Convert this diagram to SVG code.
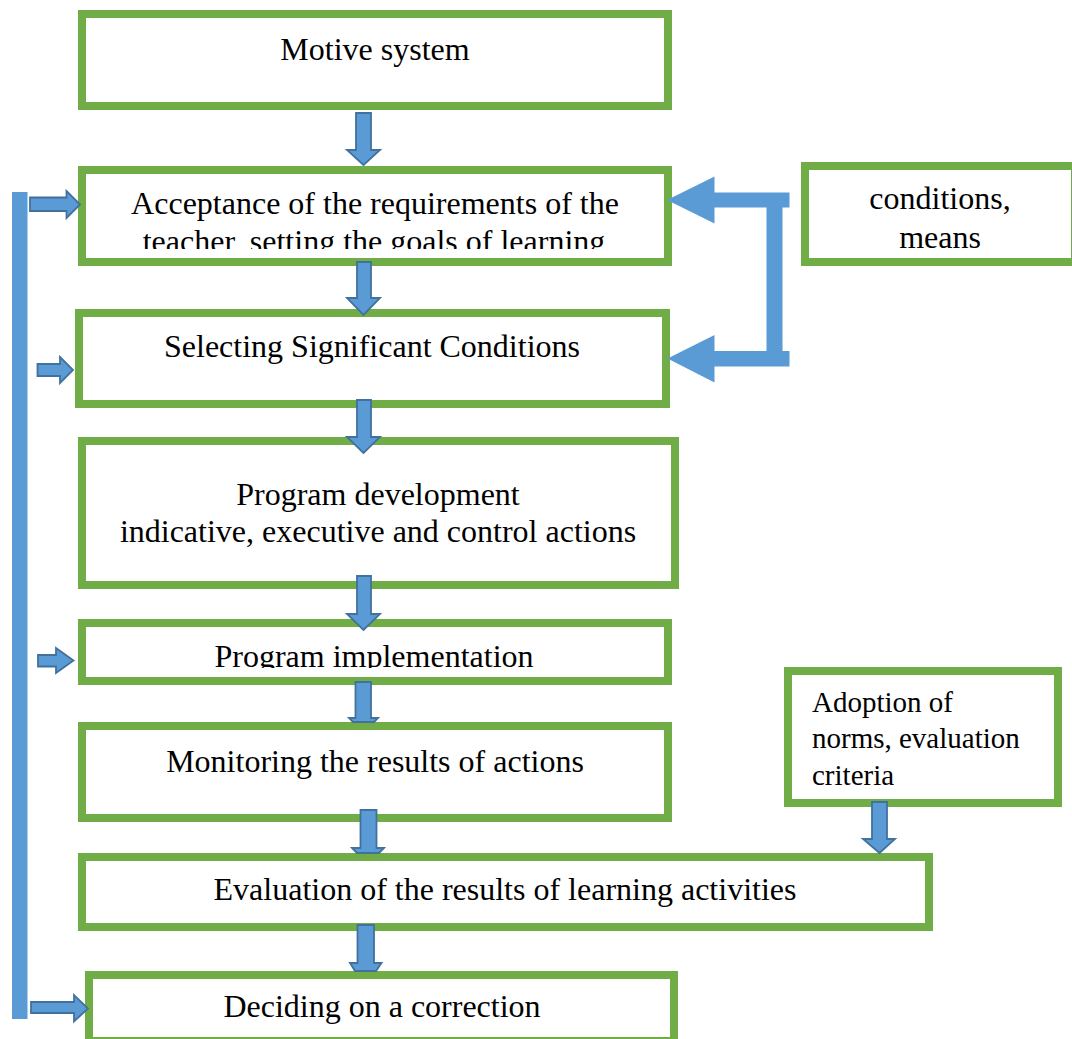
<svg xmlns="http://www.w3.org/2000/svg" width="1072" height="1039" viewBox="0 0 1072 1039">
<defs>
<style>
.box{fill:#ffffff;stroke:#70AD47;stroke-width:8}
.t{font-family:"Liberation Serif","Times New Roman",serif;font-size:32px;fill:#000000;text-anchor:middle}
.ts{font-family:"Liberation Serif","Times New Roman",serif;font-size:29px;fill:#000000}
.ba{fill:#5B9BD5;stroke:#41719C;stroke-width:1.8;stroke-linejoin:miter}
.flat{fill:#5B9BD5}
</style>
<clipPath id="clip2"><rect x="86" y="174" width="578" height="75"/></clipPath>
<clipPath id="clip5"><rect x="86" y="627" width="578" height="41"/></clipPath>
</defs>
<rect width="1072" height="1039" fill="#ffffff"/>

<g id="node-motive">
<rect class="box" x="82" y="14" width="586" height="92"/>
<text class="t" x="375" y="60">Motive system</text>
</g>
<g id="node-acceptance">
<rect class="box" x="82" y="170" width="586" height="92"/>
<g clip-path="url(#clip2)">
<text class="t" x="375" y="214">Acceptance of the requirements of the</text>
<text class="t" x="374" y="252">teacher, setting the goals of learning</text>
</g>
</g>
<g id="node-selecting">
<rect class="box" x="79" y="313" width="587" height="91"/>
<text class="t" x="372" y="357">Selecting Significant Conditions</text>
</g>
<g id="node-program-dev">
<rect class="box" x="82" y="441" width="593" height="144"/>
<text class="t" x="378" y="505">Program development</text>
<text class="t" x="378" y="542">indicative, executive and control actions</text>
</g>
<g id="node-program-impl">
<rect class="box" x="82" y="623" width="586" height="58"/>
<g clip-path="url(#clip5)">
<text class="t" x="374" y="667">Program implementation</text>
</g>
</g>
<g id="node-monitoring">
<rect class="box" x="82" y="726" width="586" height="92"/>
<text class="t" x="375" y="772">Monitoring the results of actions</text>
</g>
<g id="node-evaluation">
<rect class="box" x="82" y="857" width="847" height="70"/>
<text class="t" x="505" y="900">Evaluation of the results of learning activities</text>
</g>
<g id="node-deciding">
<rect class="box" x="89" y="975" width="585" height="66"/>
<text class="t" x="382" y="1017">Deciding on a correction</text>
</g>
<g id="node-conditions">
<rect class="box" x="805" y="166" width="270" height="96"/>
<text class="t" x="940" y="209">conditions,</text>
<text class="t" x="940" y="248">means</text>
</g>
<g id="node-adoption">
<rect class="box" x="788" y="671" width="270" height="132"/>
<text class="ts" x="812" y="712">Adoption of</text>
<text class="ts" x="812" y="748">norms, evaluation</text>
<text class="ts" x="812" y="785">criteria</text>
</g>

<g id="connectors">
<!-- vertical down block arrows -->
<polygon class="ba" points="356,113 371,113 371,150 380,150 363.5,165 347,150 356,150"/>
<polygon class="ba" points="357,262 371,262 371,298 380,298 363.5,315 347,298 357,298"/>
<polygon class="ba" points="357,400 371,400 371,437 380,437 363.5,453 347,437 357,437"/>
<polygon class="ba" points="357,576 371,576 371,614 380,614 363.5,630 347,614 357,614"/>
<polygon class="ba" points="355.5,682 371,682 371,718 378,718 374,722 353,722 349,718 355.5,718"/>
<polygon class="ba" points="360.5,810 376.5,810 376.5,848 384,848 379,853 357,853 352,848 360.5,848"/>
<polygon class="ba" points="357.5,925 374,925 374,963 381.5,963 376,971 355,971 350,963 357.5,963"/>
<polygon class="ba" points="872,802 887,802 887,839 895,839 879.5,853 863,839 872,839"/>
<!-- feedback bar on the left -->
<rect class="flat" x="12" y="192" width="15.5" height="827"/>
<polygon class="ba" points="30,197.5 66.5,197.5 66.5,191 80,204.5 66.5,218 66.5,211 30,211"/>
<polygon class="ba" points="37.5,364 60,364 60,357 73,370 60,383 60,376 37.5,376"/>
<polygon class="ba" points="38,655 56,655 56,648 73.5,660.5 56,673 56,666.5 38,666.5"/>
<polygon class="ba" points="31,1002 74,1002 74,995 88,1008.5 74,1021.5 74,1013 31,1013"/>
<!-- conditions, means bracket arrows -->
<polygon class="flat" points="667,200 714.5,176.5 714.5,192.5 789.5,192.5 789.5,207.5 782.5,207.5 782.5,351 789.5,351 789.5,366.5 714.5,366.5 714.5,382.5 667.5,358.5 714.5,335 714.5,351 766.5,351 766.5,207.5 714.5,207.5 714.5,223.5"/>
</g>
</svg>
